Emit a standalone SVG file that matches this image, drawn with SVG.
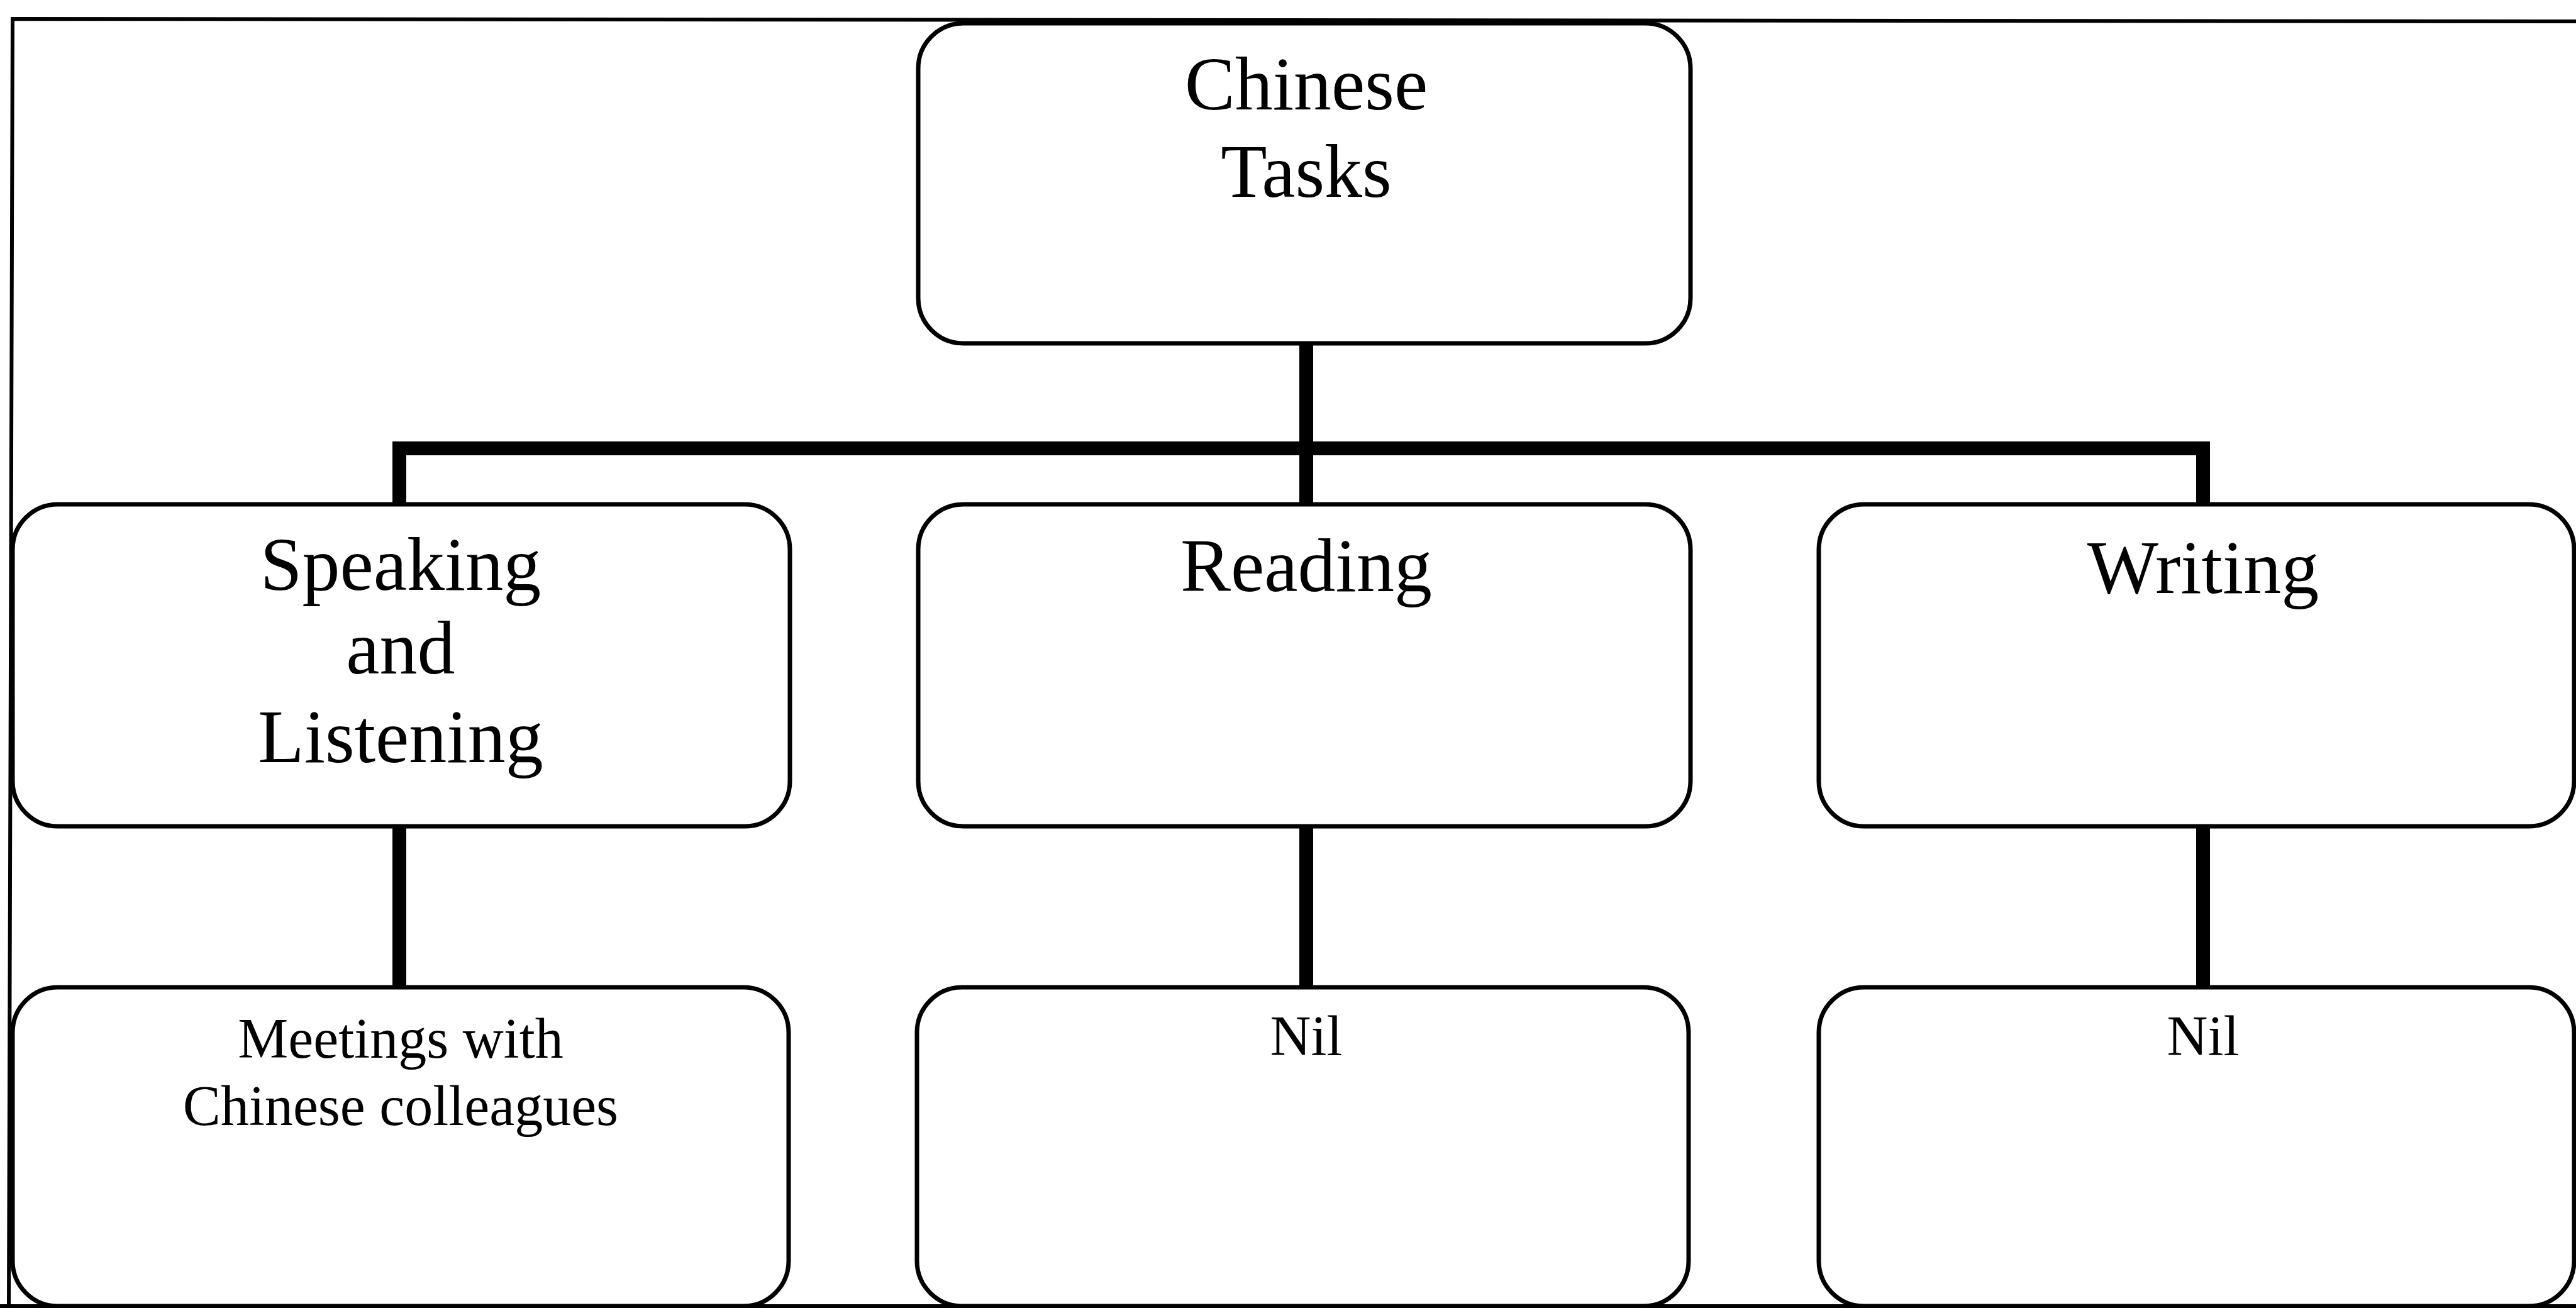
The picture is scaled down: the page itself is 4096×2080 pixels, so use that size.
<svg xmlns="http://www.w3.org/2000/svg" width="4096" height="2080" viewBox="0 0 4096 2080">
  <style>
    .box { fill: #ffffff; stroke: #000000; stroke-width: 7; }
    .frame { fill: none; stroke: #000000; stroke-width: 6; }
    .link { fill: none; stroke: #000000; stroke-width: 22; stroke-linecap: butt; }
    .big { font-family: "Liberation Serif", "Times New Roman", serif; font-size: 120px; fill: #000000; text-anchor: middle; }
    .small { font-family: "Liberation Serif", "Times New Roman", serif; font-size: 90px; fill: #000000; text-anchor: middle; }
  </style>

  <rect x="0" y="0" width="4096" height="2080" fill="#ffffff"/>

  <!-- outer frame -->
  <path class="frame" d="M 4100 34 L 20 30 L 14 2080 M 0 2077 L 4100 2077"/>

  <!-- connectors -->
  <g id="connectors">
    <line class="link" x1="2077" y1="546" x2="2077" y2="802"/>
    <line class="link" x1="624" y1="713" x2="3514" y2="713"/>
    <line class="link" x1="635" y1="702" x2="635" y2="802"/>
    <line class="link" x1="3503" y1="702" x2="3503" y2="802"/>
    <line class="link" x1="635" y1="1314" x2="635" y2="1570"/>
    <line class="link" x1="2077" y1="1314" x2="2077" y2="1570"/>
    <line class="link" x1="3503" y1="1314" x2="3503" y2="1570"/>
  </g>

  <!-- root -->
  <g id="node-chinese-tasks">
    <rect class="box" x="1460" y="37" width="1228" height="509" rx="72" ry="72"/>
    <text class="big" x="2077" y="174">Chinese</text>
    <text class="big" x="2077" y="313">Tasks</text>
  </g>

  <!-- skill level -->
  <g id="node-speaking-listening">
    <rect class="box" x="20" y="802" width="1236" height="512" rx="72" ry="72"/>
    <text class="big" x="637" y="938">Speaking</text>
    <text class="big" x="637" y="1071">and</text>
    <text class="big" x="637" y="1212">Listening</text>
  </g>
  <g id="node-reading">
    <rect class="box" x="1460" y="802" width="1228" height="512" rx="72" ry="72"/>
    <text class="big" x="2077" y="940">Reading</text>
  </g>
  <g id="node-writing">
    <rect class="box" x="2892" y="802" width="1201" height="512" rx="72" ry="72"/>
    <text class="big" x="3503" y="943">Writing</text>
  </g>

  <!-- task level -->
  <g id="node-meetings">
    <rect class="box" x="20" y="1570" width="1234" height="507" rx="72" ry="72"/>
    <text class="small" x="637" y="1682">Meetings with</text>
    <text class="small" x="637" y="1789">Chinese colleagues</text>
  </g>
  <g id="node-reading-nil">
    <rect class="box" x="1458" y="1570" width="1227" height="507" rx="72" ry="72"/>
    <text class="small" x="2077" y="1678">Nil</text>
  </g>
  <g id="node-writing-nil">
    <rect class="box" x="2892" y="1570" width="1201" height="507" rx="72" ry="72"/>
    <text class="small" x="3503" y="1678">Nil</text>
  </g>
</svg>
